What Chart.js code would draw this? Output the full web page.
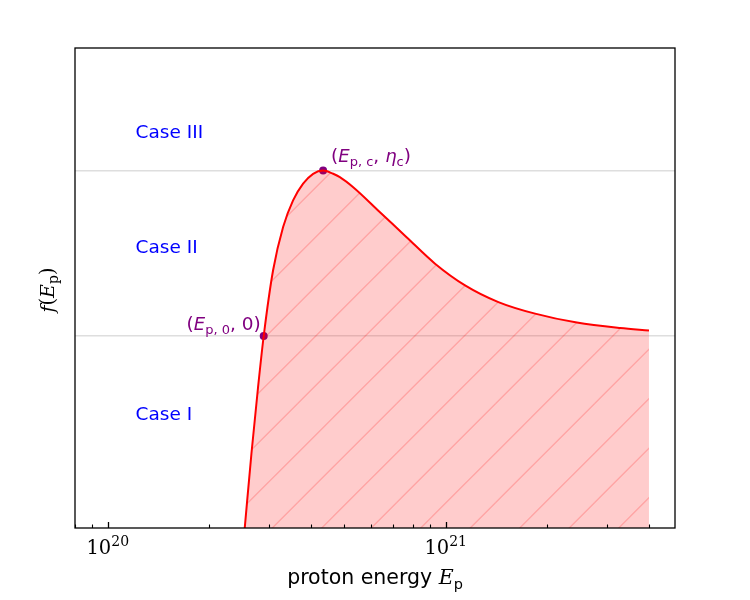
<!DOCTYPE html>
<html lang="en">
<head>
  <meta charset="UTF-8" />
  <title>f(E_p) versus proton energy</title>
  <script src="https://cdn.jsdelivr.net/npm/chart.js"></script>
  <style>
    html, body { margin: 0; padding: 0; background: #fff; }
    #wrap { width: 750px; height: 600px; }
  </style>
</head>
<body>
<div id="wrap"><canvas id="chart" width="750" height="600"></canvas></div>
<script>
  // curve (y in units of eta_c, 0 at E_p,0)
  const energies = [2.543e20, 2.662e20, 2.785e20, 2.894e20, 3.085e20, 3.303e20, 3.535e20, 3.785e20,
                    4.052e20, 4.338e20, 4.645e20, 4.862e20, 5.325e20, 6.39e20, 7.66e20, 9.30e20,
                    1.141e21, 1.432e21, 1.839e21, 2.444e21, 3.284e21, 3.995e21];
  const fValues  = [-1.16, -0.71, -0.308, 0, 0.397, 0.658, 0.819, 0.92,
                    0.98, 1.0, 0.98, 0.96, 0.899, 0.748, 0.597, 0.437,
                    0.306, 0.205, 0.135, 0.081, 0.048, 0.033];

  const markerEnergies = [2.894e20, 4.338e20];
  const markerValues = [0, 1];

  const caseNames = ['Case III', 'Case II', 'Case I'];
  const caseLevels = [1.197, 0.501, -0.509];
  const caseEnergy = 1.209e20;

  const levelLines = [0, 1];
  const majorTicks = [1e20, 1e21];
  const majorLabels = [['10', '20'], ['10', '21']];
  const minorTicks = [8e19, 9e19, 2e20, 3e20, 4e20, 5e20, 6e20, 7e20, 8e20, 9e20, 2e21, 3e21, 4e21];

  const SANS = '18.5px "DejaVu Sans"';
  const SANS_I = 'italic 18px "DejaVu Sans"';
  const SUB = '13px "DejaVu Sans"';
  const LABEL = '20.5px "DejaVu Sans"';
  const LABEL_I = 'italic 20.5px "DejaVu Serif"';
  const LABEL_SUB = '14.5px "DejaVu Sans"';
  const SERIF = '19.5px "DejaVu Serif"';
  const SERIF_I = 'italic 19px "DejaVu Serif"';
  const SUB_SERIF = '14px "DejaVu Serif"';

  function drawRich(ctx, parts, x, y, align) {
    let w = 0;
    parts.forEach(p => { ctx.font = p[1]; w += ctx.measureText(p[0]).width; });
    let cx = align === 'center' ? x - w / 2 : align === 'right' ? x - w : x;
    ctx.textAlign = 'left';
    ctx.textBaseline = 'alphabetic';
    parts.forEach(p => {
      ctx.font = p[1];
      ctx.fillText(p[0], cx, y + (p[2] || 0));
      cx += ctx.measureText(p[0]).width;
    });
  }

  // pink fill with "/" hatching
  function makeHatch() {
    const size = 99, step = 49.5, off = 8.2;
    const c = document.createElement('canvas');
    c.width = size; c.height = size;
    const g = c.getContext('2d');
    g.fillStyle = 'rgba(255,0,0,0.2)';
    g.fillRect(0, 0, size, size);
    g.strokeStyle = 'rgba(255,0,0,0.2)';
    g.lineWidth = 1.4;
    for (let k = -3; k < 6; k++) {
      const s = off + k * step;
      g.beginPath();
      g.moveTo(s + 20, -20);
      g.lineTo(-20, s + 20);
      g.stroke();
    }
    return g.createPattern(c, 'repeat');
  }

  const decorations = {
    id: 'decorations',
    afterDraw(chart) {
      const ctx = chart.ctx;
      const xs = chart.scales.x, ys = chart.scales.y;
      const a = chart.chartArea;
      ctx.save();

      // frame
      ctx.strokeStyle = '#000';
      ctx.lineWidth = 1.3;
      ctx.strokeRect(a.left, a.top, a.right - a.left, a.bottom - a.top);

      // inward ticks on the bottom axis
      ctx.beginPath();
      ctx.lineWidth = 1.1;
      minorTicks.forEach(v => {
        const px = Math.round(xs.getPixelForValue(v)) + 0.5;
        ctx.moveTo(px, a.bottom); ctx.lineTo(px, a.bottom - 3.5);
      });
      ctx.stroke();
      ctx.beginPath();
      ctx.lineWidth = 1.3;
      majorTicks.forEach(v => {
        const px = Math.round(xs.getPixelForValue(v)) + 0.5;
        ctx.moveTo(px, a.bottom); ctx.lineTo(px, a.bottom - 6);
      });
      ctx.stroke();

      // tick labels 10^n
      ctx.fillStyle = '#000';
      majorTicks.forEach((v, i) => {
        const px = xs.getPixelForValue(v);
        drawRich(ctx, [[majorLabels[i][0], SERIF], [majorLabels[i][1], SUB_SERIF, -7.5]], px, 553.5, 'center');
      });

      // axis titles
      drawRich(ctx, [['proton energy ', LABEL], ['E', LABEL_I], ['p', LABEL_SUB, 4.5]], (a.left + a.right) / 2, 584, 'center');
      ctx.save();
      ctx.translate(54, 290);
      ctx.rotate(-Math.PI / 2);
      drawRich(ctx, [['f', SERIF_I], ['(', SERIF], ['E', SERIF_I], ['p', SUB_SERIF, 4], [')', SERIF]], 0, 0, 'center');
      ctx.restore();

      // case labels
      ctx.fillStyle = '#0000ff';
      caseNames.forEach((name, i) => {
        drawRich(ctx, [[name, SANS]], xs.getPixelForValue(caseEnergy), ys.getPixelForValue(caseLevels[i]), 'left');
      });

      // point annotations
      ctx.fillStyle = '#800080';
      const p0x = xs.getPixelForValue(markerEnergies[0]), p0y = ys.getPixelForValue(markerValues[0]);
      drawRich(ctx, [['(', SANS], ['E', SANS_I], ['p, 0', SUB, 4], [', 0)', SANS]], p0x - 3, p0y - 6, 'right');
      const pcx = xs.getPixelForValue(markerEnergies[1]), pcy = ys.getPixelForValue(markerValues[1]);
      drawRich(ctx, [['(', SANS], ['E', SANS_I], ['p, c', SUB, 4], [', ', SANS], ['η', SANS_I], ['c', SUB, 4], [')', SANS]], pcx + 8, pcy - 8, 'left');

      ctx.restore();
    }
  };

  const ctx = document.getElementById('chart').getContext('2d');
  new Chart(ctx, {
    type: 'line',
    data: {
      datasets: [
        {
          data: energies.map((e, i) => ({ x: e, y: fValues[i] })),
          borderColor: '#ff0000',
          borderWidth: 2,
          backgroundColor: makeHatch(),
          fill: 'start',
          pointRadius: 0,
          cubicInterpolationMode: 'monotone'
        },
        {
          data: markerEnergies.map((e, i) => ({ x: e, y: markerValues[i] })),
          showLine: false,
          fill: false,
          pointRadius: 4,
          pointBorderWidth: 0,
          pointBackgroundColor: '#800080'
        }
      ]
    },
    options: {
      responsive: false,
      animation: false,
      devicePixelRatio: 1,
      layout: { padding: { left: 75, right: 75, top: 48, bottom: 72 } },
      plugins: { legend: { display: false }, tooltip: { enabled: false } },
      scales: {
        x: {
          type: 'logarithmic',
          min: 8e19,
          max: 4.77e21,
          afterBuildTicks: s => { s.ticks = majorTicks.map(v => ({ value: v })); },
          afterFit: s => { s.height = 0; },
          grid: { display: false },
          border: { display: false },
          ticks: { display: false }
        },
        y: {
          min: -1.16,
          max: 1.74,
          afterBuildTicks: s => { s.ticks = levelLines.map(v => ({ value: v })); },
          afterFit: s => { s.width = 0; },
          grid: { color: 'rgba(200,200,200,0.6)', lineWidth: 1.5, drawTicks: false },
          border: { display: false },
          ticks: { display: false }
        }
      }
    },
    plugins: [decorations]
  });
</script>
</body>
</html>
